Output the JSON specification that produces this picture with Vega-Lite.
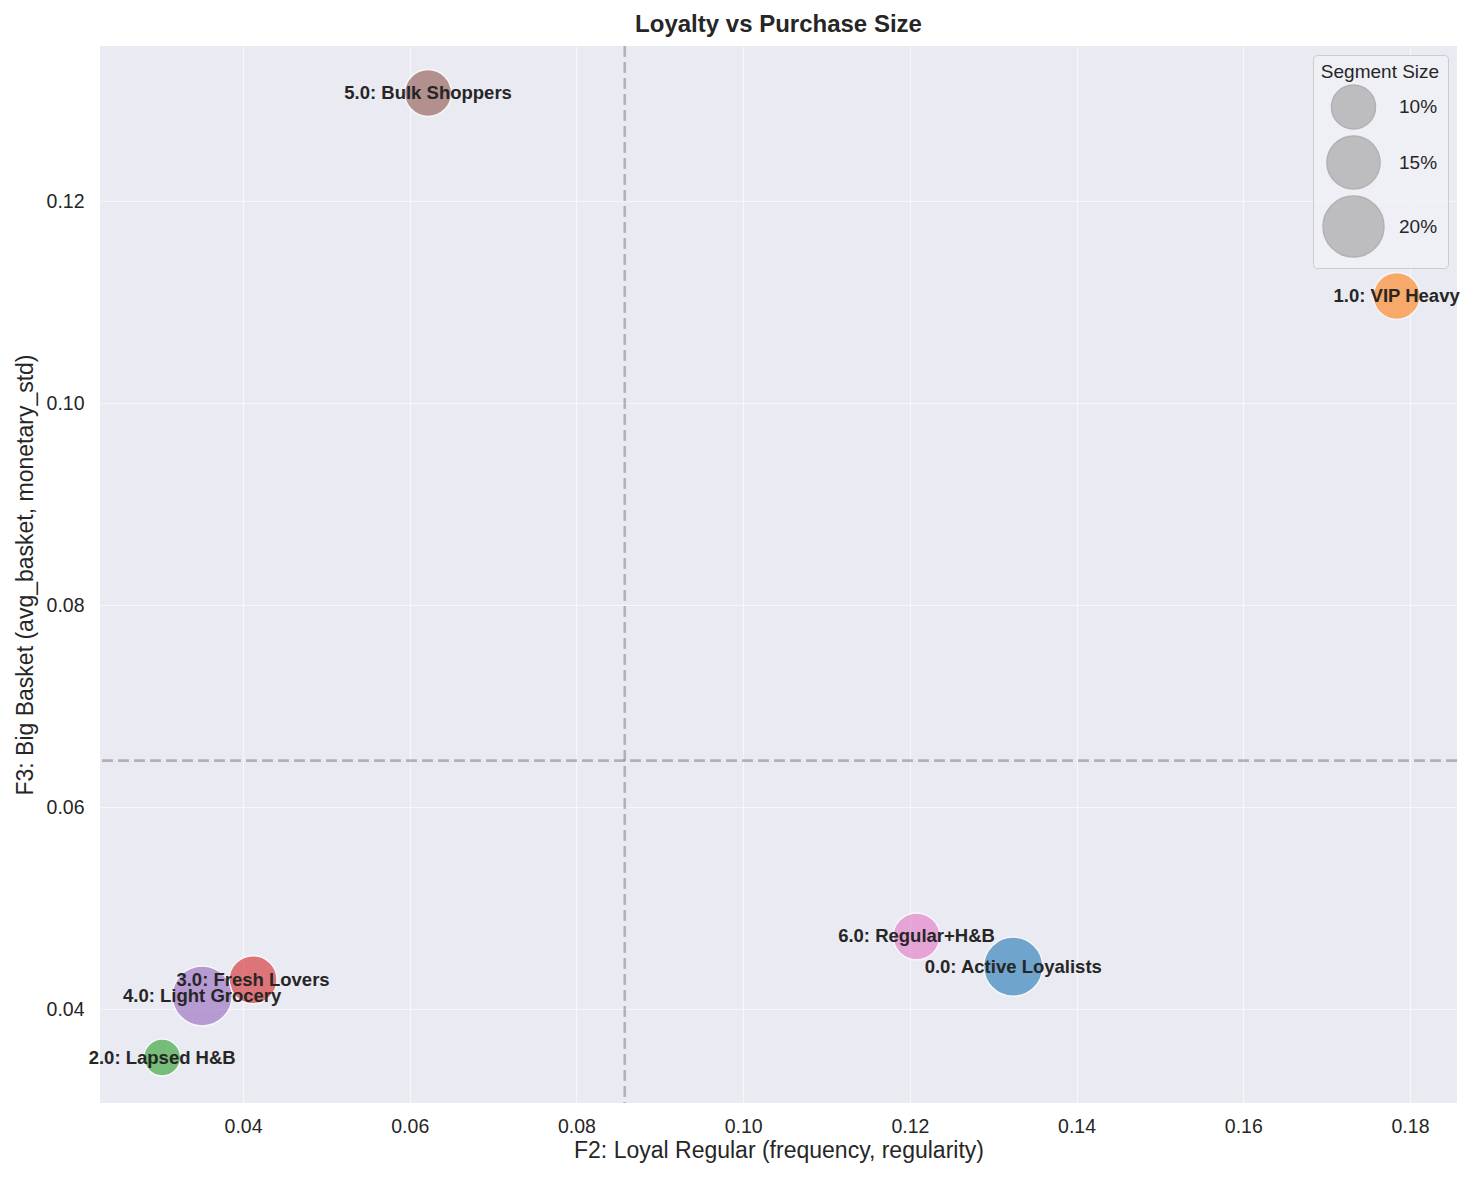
{
  "$schema": "https://vega.github.io/schema/vega-lite/v6.json",
  "autosize": {"type": "none"},
  "width": 1357,
  "height": 1057,
  "padding": {"left": 100, "top": 46, "right": 17, "bottom": 78},
  "background": "white",
  "title": {
    "text": "Loyalty vs Purchase Size",
    "font": "Liberation Sans",
    "fontSize": 24,
    "fontWeight": "bold",
    "color": "#262626",
    "anchor": "middle",
    "offset": 8
  },
  "config": {
    "view": {"fill": "#EAEAF2", "stroke": null},
    "axis": {
      "domain": false,
      "ticks": false,
      "grid": true,
      "gridColor": "#FFFFFF",
      "gridWidth": 1.2,
      "gridOpacity": 0.6,
      "labelFont": "Liberation Sans",
      "labelFontSize": 19.5,
      "labelColor": "#262626",
      "titleFont": "Liberation Sans",
      "titleFontSize": 23,
      "titleFontWeight": "normal",
      "titleColor": "#262626"
    }
  },
  "datasets": {
    "segments": [
      {"cluster": "0.0", "name": "0.0: Active Loyalists", "loyal": 0.1324, "basket": 0.0442, "share": 18.7},
      {"cluster": "1.0", "name": "1.0: VIP Heavy", "loyal": 0.1784, "basket": 0.1106, "share": 11.5},
      {"cluster": "2.0", "name": "2.0: Lapsed H&B", "loyal": 0.0303, "basket": 0.0352, "share": 6.8},
      {"cluster": "3.0", "name": "3.0: Fresh Lovers", "loyal": 0.0412, "basket": 0.0429, "share": 12.1},
      {"cluster": "4.0", "name": "4.0: Light Grocery", "loyal": 0.0351, "basket": 0.0413, "share": 19.3},
      {"cluster": "5.0", "name": "5.0: Bulk Shoppers", "loyal": 0.0622, "basket": 0.1307, "share": 11.5},
      {"cluster": "6.0", "name": "6.0: Regular+H&B", "loyal": 0.1208, "basket": 0.0472, "share": 11.5}
    ]
  },
  "data": {"name": "segments"},
  "layer": [
    {
      "mark": {"type": "circle", "opacity": 0.6, "stroke": "white", "strokeWidth": 1.5, "strokeOpacity": 1},
      "encoding": {
        "x": {
          "field": "loyal", "type": "quantitative",
          "title": "F2: Loyal Regular (frequency, regularity)",
          "scale": {"domain": [0.02284, 0.18564], "nice": false, "zero": false},
          "axis": {"values": [0.04, 0.06, 0.08, 0.1, 0.12, 0.14, 0.16, 0.18], "format": ".2f", "labelPadding": 14, "titlePadding": 4}
        },
        "y": {
          "field": "basket", "type": "quantitative",
          "title": "F3: Big Basket (avg_basket, monetary_std)",
          "scale": {"domain": [0.0307, 0.13535], "nice": false, "zero": false},
          "axis": {"values": [0.04, 0.06, 0.08, 0.1, 0.12], "format": ".2f", "labelPadding": 16, "titlePadding": 9}
        },
        "color": {
          "field": "cluster", "type": "nominal",
          "scale": {"domain": ["0.0", "1.0", "2.0", "3.0", "4.0", "5.0", "6.0"],
                    "range": ["#1f77b4", "#ff7f0e", "#2ca02c", "#d62728", "#9467bd", "#8c564b", "#e377c2"]},
          "legend": null
        },
        "size": {
          "field": "share", "type": "quantitative",
          "title": "Segment Size",
          "scale": {"domain": [5, 25], "range": [1043, 4613], "zero": false},
          "legend": {
            "values": [10, 15, 20],
            "labelExpr": "datum.value + '%'",
            "orient": "top-right",
            "offset": 9,
            "symbolType": "circle",
            "symbolFillColor": "#8c8c8c",
            "symbolOpacity": 0.5,
            "symbolStrokeColor": "#777777",
            "symbolStrokeWidth": 1.5,
            "fillColor": "rgba(240,240,246,0.8)",
            "strokeColor": "#cccccc",
            "padding": 8,
            "cornerRadius": 4,
            "titleFont": "Liberation Sans",
            "titleFontSize": 19,
            "titleFontWeight": "normal",
            "titleColor": "#262626",
            "titlePadding": 2,
            "labelFont": "Liberation Sans",
            "labelFontSize": 19,
            "labelColor": "#262626",
            "labelOffset": 14,
            "rowPadding": 0,
            "titleAnchor": "middle"
          }
        }
      }
    },
    {
      "mark": {"type": "text", "font": "Liberation Sans", "fontSize": 18.5, "fontWeight": "bold", "color": "#262626", "align": "center", "baseline": "middle"},
      "encoding": {
        "x": {"field": "loyal", "type": "quantitative"},
        "y": {"field": "basket", "type": "quantitative"},
        "text": {"field": "name"}
      }
    },
    {
      "data": {"values": [{"meanLoyal": 0.0858}]},
      "mark": {"type": "rule", "color": "#8a8a90", "strokeDash": [11, 5], "strokeWidth": 2.6, "opacity": 0.6},
      "encoding": {"x": {"field": "meanLoyal", "type": "quantitative"}}
    },
    {
      "data": {"values": [{"meanBasket": 0.0646}]},
      "mark": {"type": "rule", "color": "#8a8a90", "strokeDash": [11, 5], "strokeWidth": 2.6, "opacity": 0.6},
      "encoding": {"y": {"field": "meanBasket", "type": "quantitative"}}
    }
  ]
}
